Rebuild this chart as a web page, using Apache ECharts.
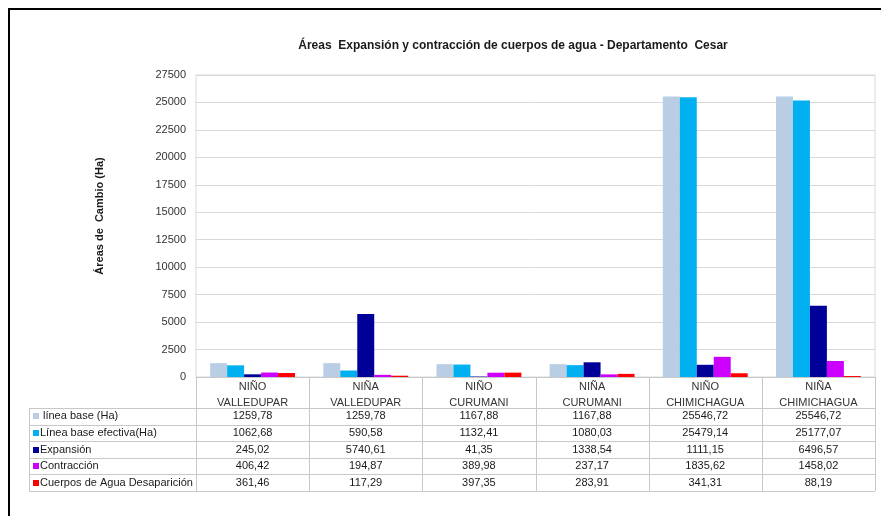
<!DOCTYPE html>
<html>
<head>
<meta charset="utf-8">
<script src="https://cdn.jsdelivr.net/npm/echarts@6/dist/echarts.min.js"></script>
<style>
  html, body { margin: 0; padding: 0; background: #fff; }
  #chart { width: 885px; height: 516px; }
</style>
</head>
<body>
<div id="chart"></div>
<script>
// Water-body change by phenomenon and municipality (hectares)
const categories = ['NIÑO\nVALLEDUPAR', 'NIÑA\nVALLEDUPAR', 'NIÑO\nCURUMANI', 'NIÑA\nCURUMANI', 'NIÑO\nCHIMICHAGUA', 'NIÑA\nCHIMICHAGUA'];
const seriesNames = ['línea base (Ha)', 'Línea base efectiva(Ha)', 'Expansión', 'Contracción', 'Cuerpos de Agua Desaparición'];
const lineaBase = [1259.78, 1259.78, 1167.88, 1167.88, 25546.72, 25546.72];
const lineaBaseEfectiva = [1062.68, 590.58, 1132.41, 1080.03, 25479.14, 25177.07];
const expansion = [245.02, 5740.61, 41.35, 1338.54, 1111.15, 6496.57];
const contraccion = [406.42, 194.87, 389.98, 237.17, 1835.62, 1458.02];
const desaparicion = [361.46, 117.29, 397.35, 283.91, 341.31, 88.19];
const yTicks = { min: 0, max: 27500, interval: 2500 };

const seriesValues = [lineaBase, lineaBaseEfectiva, expansion, contraccion, desaparicion];
const colors = ['#B9CDE5', '#00B0F0', '#000099', '#CC00FF', '#FF0000'];

const FONT = '"Liberation Sans", Arial, sans-serif';
const GRID = { left: 196, right: 10, top: 75, bottom: 139 };
const TABLE = { left: 29, top: 408, rowH: 16.6, lineColor: '#c8c8c8' };

const chart = echarts.init(document.getElementById('chart'), null, { renderer: 'canvas' });

chart.setOption({
  animation: false,
  backgroundColor: '#fff',
  textStyle: { fontFamily: FONT },
  title: {
    text: 'Áreas  Expansión y contracción de cuerpos de agua - Departamento  Cesar',
    left: 508, top: 35, textAlign: 'center',
    textStyle: { fontSize: 12, fontWeight: 'bold', color: '#1a1a1a', fontFamily: FONT }
  },
  legend: { show: false },
  grid: {
    left: GRID.left, right: GRID.right, top: GRID.top, bottom: GRID.bottom,
    show: true, borderColor: '#d9d9d9', borderWidth: 1
  },
  xAxis: {
    type: 'category',
    data: categories,
    axisLine: { lineStyle: { color: '#c8c8c8' } },
    axisTick: { show: false },
    axisLabel: { color: '#333', fontSize: 11, lineHeight: 16, margin: 2, fontFamily: FONT }
  },
  yAxis: {
    type: 'value',
    min: yTicks.min, max: yTicks.max, interval: yTicks.interval,
    axisLine: { show: false },
    axisTick: { show: false },
    splitLine: { lineStyle: { color: '#d9d9d9' } },
    axisLabel: { color: '#333', fontSize: 11, margin: 10, fontFamily: FONT, formatter: v => String(v) }
  },
  series: seriesNames.map((name, i) => ({
    name,
    type: 'bar',
    data: seriesValues[i],
    itemStyle: { color: colors[i] },
    barGap: '0%',
    barCategoryGap: '25%'
  }))
});

// Data table under the plot, aligned on the category axis
function fmt(v) { return v.toFixed(2).replace('.', ','); }

function buildTable() {
  const graphic = [];
  const band = chart.convertToPixel({ xAxisIndex: 0 }, 1) - chart.convertToPixel({ xAxisIndex: 0 }, 0);
  const centers = categories.map((c, i) => chart.convertToPixel({ xAxisIndex: 0 }, i));
  const plotBottom = chart.convertToPixel({ yAxisIndex: 0 }, 0);
  const xRight = centers[centers.length - 1] + band / 2;
  const tableBottom = TABLE.top + TABLE.rowH * seriesNames.length;
  const line = (x1, y1, x2, y2, color, w) => ({
    type: 'line', silent: true,
    shape: { x1, y1, x2, y2 },
    style: { stroke: color, lineWidth: w || 1 }
  });

  // y axis title
  graphic.push({
    type: 'text', silent: true,
    x: 100, y: 216, rotation: Math.PI / 2,
    style: {
      x: 0, y: 0, text: 'Áreas de  Cambio (Ha)',
      font: 'bold 11px ' + FONT, fill: '#1a1a1a',
      textAlign: 'center', textVerticalAlign: 'middle'
    }
  });

  // column separators
  for (let i = 0; i <= categories.length; i++) {
    const x = Math.round(centers[0] - band / 2 + i * band) + 0.5;
    graphic.push(line(x, plotBottom, x, tableBottom, TABLE.lineColor));
  }
  // left border of the legend column
  graphic.push(line(TABLE.left + 0.5, TABLE.top, TABLE.left + 0.5, tableBottom, TABLE.lineColor));
  // row lines
  for (let r = 0; r <= seriesNames.length; r++) {
    const y = Math.round(TABLE.top + r * TABLE.rowH) + 0.5;
    graphic.push(line(TABLE.left, y, xRight, y, TABLE.lineColor));
  }
  // legend keys, names and values
  seriesNames.forEach((name, r) => {
    const cy = TABLE.top + (r + 0.5) * TABLE.rowH;
    graphic.push({
      type: 'rect', silent: true,
      shape: { x: 33, y: Math.round(cy) - 3, width: 6, height: 6 },
      style: { fill: colors[r] }
    });
    graphic.push({
      type: 'text', silent: true,
      style: {
        x: r === 0 ? 43 : 40, y: cy, text: name,
        font: '11px ' + FONT, fill: '#1a1a1a',
        textAlign: 'left', textVerticalAlign: 'middle'
      }
    });
    seriesValues[r].forEach((v, i) => {
      graphic.push({
        type: 'text', silent: true,
        style: {
          x: centers[i], y: cy, text: fmt(v),
          font: '11px ' + FONT, fill: '#1a1a1a',
          textAlign: 'center', textVerticalAlign: 'middle'
        }
      });
    });
  });
  // outer frame (top and left edges)
  graphic.push(line(8, 9, 881, 9, '#000', 2));
  graphic.push(line(9, 8, 9, 516, '#000', 2));

  chart.setOption({ graphic });
}

buildTable();
</script>
</body>
</html>
